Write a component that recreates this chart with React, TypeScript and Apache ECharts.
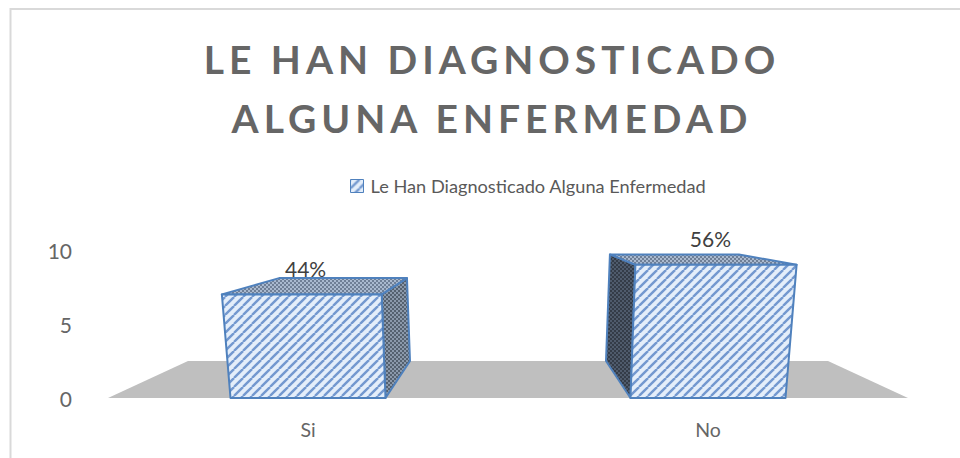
import React, { useEffect, useRef } from "react";
import * as echarts from "echarts";

const categories = ["Si", "No"];
const barValues = [7, 9];
const barLabels = ["44%", "56%"];
const seriesName = "Le Han Diagnosticado Alguna Enfermedad";
const titleText = "LE HAN DIAGNOSTICADO\nALGUNA ENFERMEDAD";

const VP_X = 508;
const VP_Y = 213;
const DEPTH = 0.2;
const LEAN = 0.0003;
const BAR_WIDTH = 155;

function stripes(): HTMLCanvasElement {
  const s = 9;
  const c = document.createElement("canvas");
  c.width = s;
  c.height = s;
  const g = c.getContext("2d")!;
  g.fillStyle = "#e4eefa";
  g.fillRect(0, 0, s, s);
  g.strokeStyle = "#7398cf";
  g.lineWidth = 2.4;
  for (const o of [-s, 0, s]) {
    g.beginPath();
    g.moveTo(o, s);
    g.lineTo(o + s, 0);
    g.stroke();
  }
  return c;
}

function dots(bg: string, fg: string): HTMLCanvasElement {
  const s = 4;
  const c = document.createElement("canvas");
  c.width = s;
  c.height = s;
  const g = c.getContext("2d")!;
  g.fillStyle = bg;
  g.fillRect(0, 0, s, s);
  g.fillStyle = fg;
  g.fillRect(0, 0, 2, 2);
  g.fillRect(2, 2, 2, 2);
  return c;
}

export default function App() {
  const ref = useRef<HTMLDivElement>(null);
  useEffect(() => {
    document.body.style.margin = "0";
    const chart = echarts.init(ref.current!, undefined, { renderer: "svg" });
    const front = { image: stripes(), repeat: "repeat" } as any;
    const top = { image: dots("#a9b9cf", "#6f7f96"), repeat: "repeat" } as any;
    const rightSide = { image: dots("#8b99ab", "#55616f"), repeat: "repeat" } as any;
    const leftSide = { image: dots("#4f5b6c", "#343c48"), repeat: "repeat" } as any;
    const edge = "#4f81bd";

    const project = (x: number, y: number, baseY: number, depth: number) => {
      const sx = 1 + (baseY - y) * LEAN;
      const px = VP_X + (x - VP_X) * sx;
      return [px + (VP_X - px) * depth, y + (VP_Y - y) * depth];
    };

    const face = (points: number[][], fill: any) => ({
      type: "polygon",
      shape: { points },
      style: { fill, stroke: edge, lineWidth: 2, lineJoin: "round" },
    });

    const option: any = {
      animation: false,
      textStyle: { fontFamily: "Lato" },
      title: {
        text: titleText,
        left: 487,
        top: 24,
        textAlign: "center",
        textStyle: {
          fontFamily: "Lato",
          fontSize: 39,
          fontWeight: "bold",
          color: "#666666",
          lineHeight: 59,
        },
      },
      legend: {
        data: [
          {
            name: seriesName,
            icon: "rect",
            itemStyle: { color: front, borderColor: edge, borderWidth: 1 },
          },
        ],
        left: 345,
        top: 172,
        itemWidth: 13,
        itemHeight: 13,
        itemGap: 6,
        textStyle: { fontFamily: "Lato", fontSize: 18.2, color: "#595959", padding: [0, 0, 0, 2] },
      },
      grid: { left: 108, right: 52, top: 250, bottom: 60 },
      xAxis: {
        type: "category",
        data: categories,
        axisLine: { show: false },
        axisTick: { show: false },
        axisLabel: { fontFamily: "Lato", fontSize: 19.5, color: "#666666", margin: 21 },
      },
      yAxis: {
        type: "value",
        min: 0,
        max: 10,
        interval: 5,
        splitLine: { show: false },
        axisLine: { show: false },
        axisTick: { show: false },
        axisLabel: { fontFamily: "Lato", fontSize: 21, color: "#666666", margin: 36 },
      },
      graphic: [
        {
          type: "polyline",
          shape: { points: [[960, 9], [10.5, 9], [10.5, 458]] },
          style: { fill: "none", stroke: "#d9d9d9", lineWidth: 2 },
          silent: true,
        },
      ],
      series: [
        {
          name: "floor",
          type: "custom",
          coordinateSystem: "cartesian2d",
          silent: true,
          z: 1,
          data: [[0, 0]],
          renderItem: (_p: any, api: any) => {
            const base = api.coord([0, 0])[1];
            const size = api.size([1, 0])[0];
            const l = api.coord([0, 0])[0] - size / 2;
            const r = l + size * categories.length;
            return {
              type: "polygon",
              shape: {
                points: [
                  project(l, base, base, 0),
                  project(r, base, base, 0),
                  project(r, base, base, DEPTH),
                  project(l, base, base, DEPTH),
                ],
              },
              style: { fill: "#bfbfbf" },
            };
          },
        },
        {
          name: seriesName,
          type: "custom",
          coordinateSystem: "cartesian2d",
          silent: true,
          z: 2,
          itemStyle: { color: front },
          data: categories.map((_c, i) => [i, barValues[i]]),
          renderItem: (p: any, api: any) => {
            const i = api.value(0);
            const [cx, base] = api.coord([i, 0]);
            const t = api.coord([i, api.value(1)])[1];
            const l = cx - BAR_WIDTH / 2;
            const r = cx + BAR_WIDTH / 2;
            const P = (x: number, y: number, d: number) => project(x, y, base, d);
            const side =
              cx < VP_X
                ? face([P(r, t, 0), P(r, t, DEPTH), P(r, base, DEPTH), P(r, base, 0)], rightSide)
                : face([P(l, t, 0), P(l, t, DEPTH), P(l, base, DEPTH), P(l, base, 0)], leftSide);
            return {
              type: "group",
              children: [
                side,
                face([P(l, t, 0), P(r, t, 0), P(r, t, DEPTH), P(l, t, DEPTH)], top),
                face([P(l, t, 0), P(r, t, 0), P(r, base, 0), P(l, base, 0)], front),
                {
                  type: "text",
                  style: {
                    text: barLabels[p.dataIndex],
                    x: cx + (cx - VP_X) * 0.012,
                    y: t - 26,
                    align: "center",
                    verticalAlign: "middle",
                    fontFamily: "Lato",
                    fontSize: 21,
                    fill: "#404040",
                  },
                },
              ],
            };
          },
        },
      ],
    };
    chart.setOption(option);
    ref.current!.querySelectorAll("text").forEach((el) => {
      if (/^(LE HAN|ALGUNA)/.test(el.textContent || "")) {
        (el as SVGTextElement).style.letterSpacing = "5px";
      }
    });
    return () => chart.dispose();
  }, []);
  return <div ref={ref} style={{ width: 960, height: 458 }} />;
}
